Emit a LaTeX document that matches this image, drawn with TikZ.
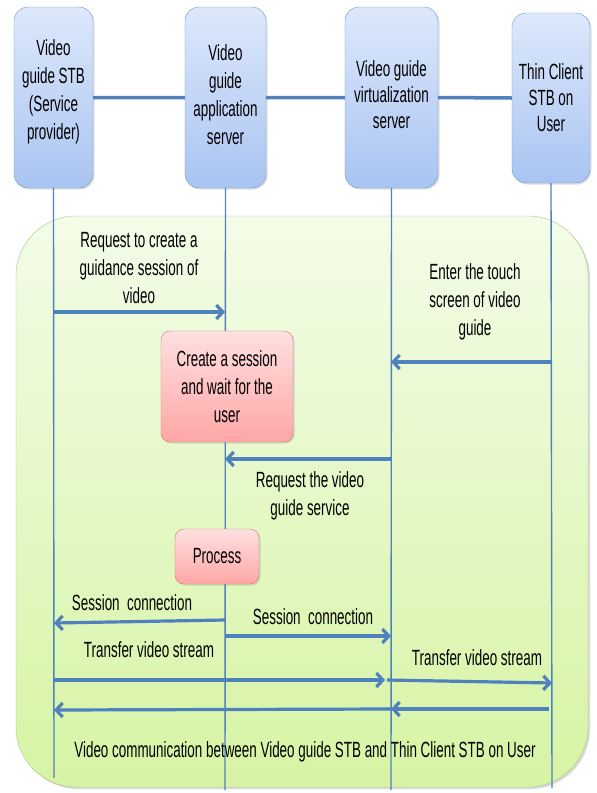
\documentclass[tikz,border=0pt]{standalone}
\usepackage{fontspec}
\setmainfont{Liberation Sans}[FakeStretch=0.61]
\usetikzlibrary{arrows.meta,shadows}
\definecolor{lineblue}{HTML}{4F81BD}
\definecolor{boxedge}{HTML}{7096CC}
\definecolor{boxtop}{HTML}{DDE8FB}
\definecolor{boxbot}{HTML}{A9C4F2}
\definecolor{actedge}{HTML}{D27575}
\definecolor{acttop}{HTML}{FFE0E0}
\definecolor{actbot}{HTML}{FFA6A6}
\definecolor{zoneedge}{HTML}{A8C97A}
\definecolor{zonetop}{HTML}{F3FCE8}
\definecolor{zonebot}{HTML}{D6F4A4}
\tikzset{
  lane/.style={draw=boxedge,rounded corners=14pt,top color=boxtop,bottom color=boxbot,
    align=center,inner sep=0pt,minimum height=181pt,
    drop shadow={shadow xshift=1.5pt,shadow yshift=-1.5pt,opacity=.25}},
  act/.style={draw=actedge,rounded corners=9pt,top color=acttop,bottom color=actbot,
    align=center,inner sep=0pt,
    drop shadow={shadow xshift=1.5pt,shadow yshift=-1.5pt,opacity=.25}},
  msg/.style={lineblue,line width=3.2pt,-{Straight Barb[length=6.5pt,width=14pt]}},
  life/.style={lineblue,line width=1.4pt},
  lbl/.style={align=center,inner sep=0pt}
}
\begin{document}
\begin{tikzpicture}[x=1pt,y=-1pt,font=\fontsize{22}{28}\selectfont]
	\useasboundingbox (0,0) rectangle (597,793);
	\def\xa{54}
	\def\xb{225}
	\def\xc{391}
	\def\xd{552}
	\draw[draw=zoneedge,top color=zonetop,bottom color=zonebot,rounded corners=60pt,
	  drop shadow={shadow xshift=2pt,shadow yshift=-2pt,opacity=.3}]
	  (16,216) rectangle (588,787);
	\node[lane,minimum width=79pt] (stb) at (53.5,97.5) {};
	\node[lane,minimum width=81pt] (app) at (225.5,97.5) {};
	\node[lane,minimum width=93pt] (virt) at (391.5,97.5) {};
	\node[lane,minimum width=78pt,minimum height=170pt] (thin) at (551,98) {};
	\node[lbl] (stbtxt) at (53.5,92) {Video\\guide STB\\(Service\\provider)};
	\node[lbl] (apptxt) at (225.5,95) {Video\\guide\\application\\server};
	\node[lbl,font=\fontsize{22}{26}\selectfont] (virttxt) at (391.5,95) {Video guide\\virtualization\\server};
	\node[lbl,font=\fontsize{22}{26}\selectfont] (thintxt) at (551,98) {Thin Client\\STB on\\User};
	\draw[lineblue,line width=3.5pt] (stb.east)--(app.west) (app.east)--(virt.west) (virt.east)--(thin.west);
	\path
	(\xa,778) coordinate (A0) (\xb,790) coordinate (B0) (\xc,790) coordinate (C0) (\xd,788) coordinate (D0)
	(\xa,312) coordinate (A1) (\xb,312) coordinate (B1)
	(\xd,362) coordinate (D2) (\xc,362) coordinate (C2)
	(\xc,459) coordinate (C3) (\xb,459) coordinate (B3)
	(\xb,620) coordinate (B4) (\xa,623) coordinate (A4)
	(\xb,636) coordinate (B5) (\xc,636) coordinate (C5)
	(\xa,680) coordinate (A6) (385,680) coordinate (C6) (387,680) coordinate (C6') (\xd,683) coordinate (D6)
	(549,709) coordinate (D7) (\xc,709) coordinate (C7) (\xa,710) coordinate (A7);
	\draw[life] (stb.south)--(A0) (app.south)--(B0) (virt.south)--(C0) (thin.south)--(D0);
	\node[act,minimum width=132pt,minimum height=111pt] (wait) at (227,386.5) {Create a session\\and wait for the\\user};
	\node[act,minimum width=84pt,minimum height=55pt] (proc) at (217,556.5) {Process};
	\draw[msg] (A1)--(B1);
	\draw[msg] (D2)--(C2);
	\draw[msg] (C3)--(B3);
	\draw[msg] (B4)--(A4);
	\draw[msg] (B5)--(C5);
	\draw[msg] (A6)--(C6);
	\draw[msg] (C6')--(D6);
	\draw[msg] (D7)--(C7);
	\draw[msg] (C7)--(A7);
	\node[lbl] (l1) at (139,268) {Request to create a\\guidance session of\\video};
	\node[lbl] (l2) at (475,302) {Enter the touch\\screen of video\\guide};
	\node[lbl] (l3) at (310,496) {Request the video\\guide service};
	\node[lbl] (l4) at (132,603) {Session\ \ connection};
	\node[lbl] (l5) at (313,617) {Session\ \ connection};
	\node[lbl] (l6) at (149,650) {Transfer video stream};
	\node[lbl] (l7) at (477,658) {Transfer video stream};
	\node[lbl] (l8) at (305,752) {Video communication between Video guide STB and Thin Client STB on User};
\end{tikzpicture}
\end{document}
